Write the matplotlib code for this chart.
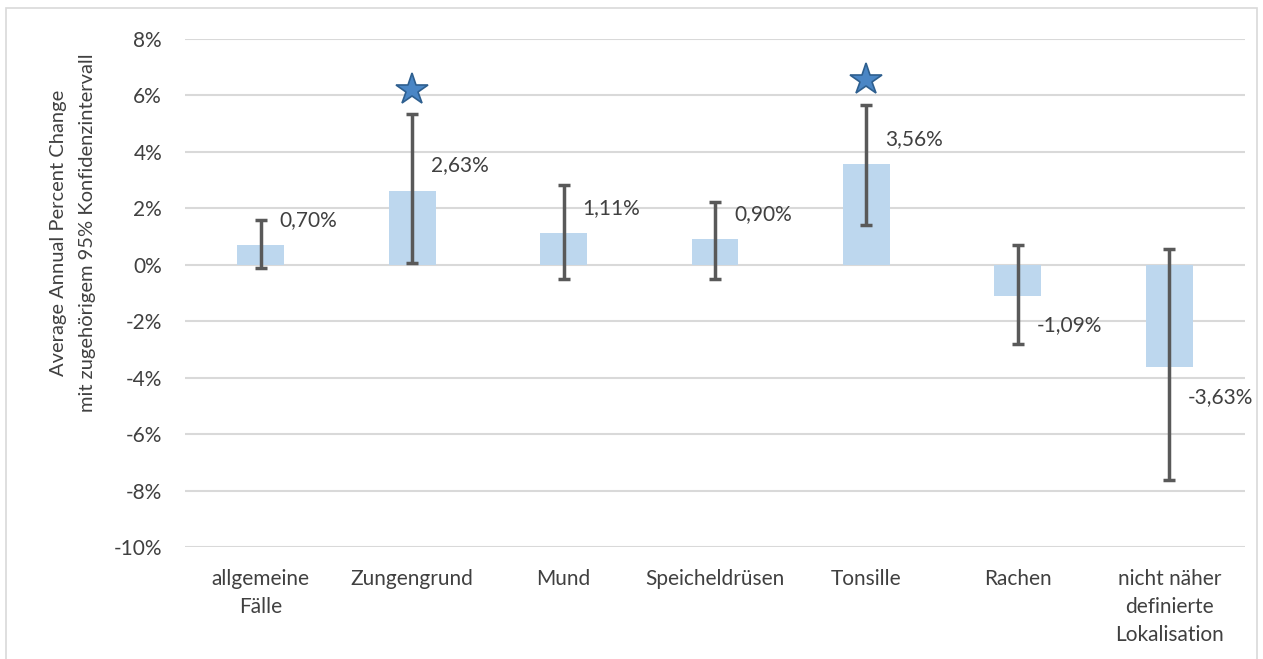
import numpy as np
import matplotlib.pyplot as plt
from matplotlib.patches import Rectangle

plt.rcParams["font.family"] = ["Lato", "DejaVu Sans"]

categories = [
    "allgemeine\nFälle",
    "Zungengrund",
    "Mund",
    "Speicheldrüsen",
    "Tonsille",
    "Rachen",
    "nicht näher\ndefinierte\nLokalisation",
]
apc = [0.70, 2.63, 1.11, 0.90, 3.56, -1.09, -3.63]
ci_low = [-0.11, 0.08, -0.51, -0.51, 1.40, -2.79, -7.62]
ci_high = [1.59, 5.33, 2.82, 2.22, 5.66, 0.69, 0.57]
labels = ["0,70%", "2,63%", "1,11%", "0,90%", "3,56%", "-1,09%", "-3,63%"]
star_idx = [1, 4]
star_y = [6.2, 6.56]
yticks = [8, 6, 4, 2, 0, -2, -4, -6, -8, -10]

text_col = "#404040"
grid_col = "#d9d9d9"

fig = plt.figure(figsize=(12.63, 6.59), dpi=100)
ax = fig.add_axes([0.1465, 0.170, 0.8392, 0.7708])

x = np.arange(len(categories))
apc = np.array(apc)
yerr = np.array([apc - np.array(ci_low), np.array(ci_high) - apc])

ax.bar(x, apc, width=0.31, color="#bdd7ee", zorder=2)
ax.errorbar(x, apc, yerr=yerr, fmt="none", ecolor="#595959",
            elinewidth=2.5, capsize=4.3, capthick=2.5, zorder=3)

for i, lab in enumerate(labels):
    dy = 25 if apc[i] >= 0 else -30
    ax.annotate(lab, (x[i], apc[i]), xytext=(19, dy),
                textcoords="offset pixels", ha="left", va="center",
                fontsize=15, color=text_col)

ax.plot(x[star_idx], star_y, linestyle="none", marker="*",
        markersize=24, markerfacecolor="#4a86c5",
        markeredgecolor="#2e5f8f", markeredgewidth=1.2, zorder=4)

ax.set_xlim(-0.5, len(categories) - 0.5)
ax.set_ylim(-10, 8)
ax.set_yticks(yticks)
ax.set_yticklabels([f"{t}%" for t in yticks])
ax.yaxis.grid(True, color=grid_col, linewidth=1.5, zorder=0)
ax.set_axisbelow(True)

ax.set_xticks(x)
ax.set_xticklabels(categories, linespacing=1.5, va="top")
ax.tick_params(axis="both", length=0, labelsize=15, colors=text_col)
ax.tick_params(axis="x", pad=16)
ax.tick_params(axis="y", pad=16.5)

for s in ax.spines.values():
    s.set_visible(False)

fig.text(0.0578, 1 - 233 / 659,
         "Average Annual Percent Change\nmit zugehörigem 95% Konfidenzintervall",
         rotation=90, ha="center", va="center", fontsize=14.5,
         color=text_col, linespacing=1.8)

fig.patches.append(Rectangle((6 / 1263, -0.05), 1251 / 1263, 1.05 - 8 / 659,
                             transform=fig.transFigure, fill=False,
                             edgecolor=grid_col, linewidth=1.2))

fig.savefig("out.png", dpi=100)
